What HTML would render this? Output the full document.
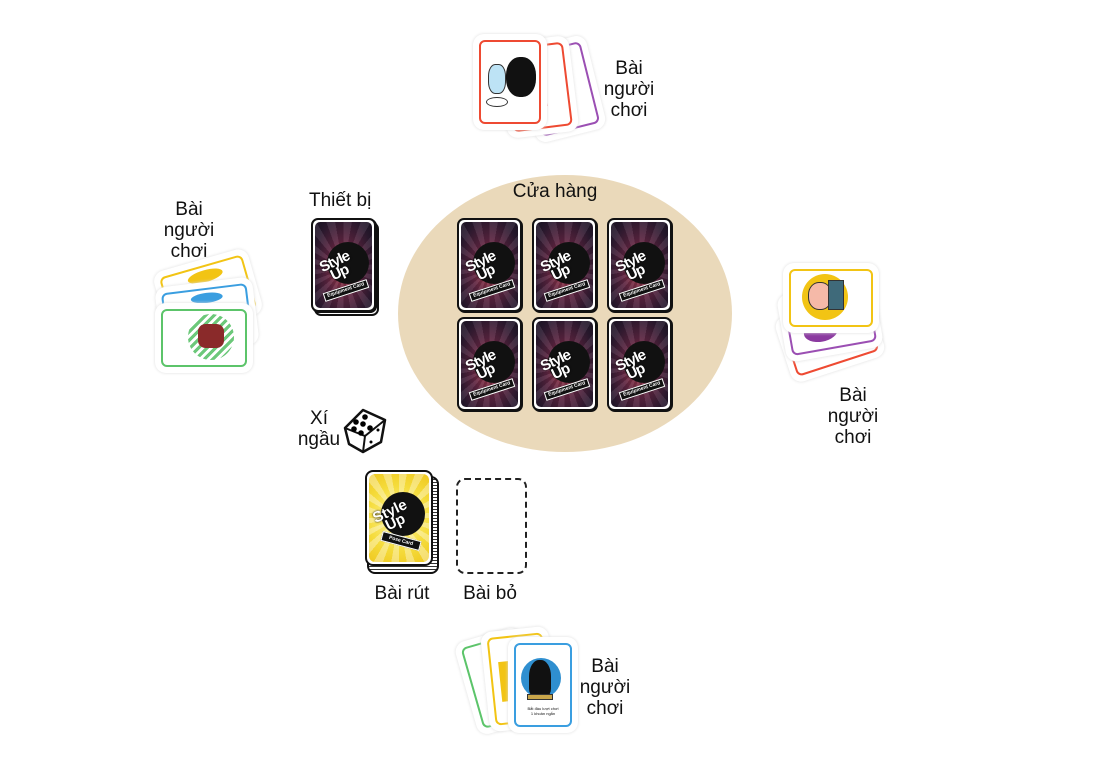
<!DOCTYPE html>
<html><head><meta charset="utf-8"><style>
*{margin:0;padding:0;box-sizing:border-box}
body{width:1119px;height:778px;background:#fff;position:relative;overflow:hidden;font-family:"Liberation Sans",sans-serif;color:#111}
.abs{position:absolute}
.lbl{position:absolute;font-size:19px;line-height:21px;text-align:center;color:#111}
.back{position:absolute;width:65px;height:94px;border-radius:7px;background:#fff;border:2px solid #111;padding:2px;box-shadow:1px 1px 0 #111}
.back .in{width:100%;height:100%;border-radius:5px;overflow:hidden;position:relative;
background:repeating-conic-gradient(from 0deg at 50% 55%,rgba(255,255,255,0.08) 0 10deg,rgba(0,0,0,0.1) 10deg 20deg),radial-gradient(ellipse at 50% 55%,#a63c4c 0%,#5a2440 45%,#2a1a30 80%,#1b1424 100%)}
.back .circ{position:absolute;left:12px;top:20px;width:42px;height:42px;border-radius:50%;background:#111}
.back .logo{position:absolute;left:6px;top:30px;width:48px;height:24px;transform:rotate(-25deg);font:bold 15px/12px "Liberation Sans",sans-serif;color:#fff;text-shadow:0 0 2px #000;letter-spacing:-1px}
.back .tag{position:absolute;left:8px;top:64px;width:46px;height:9px;background:#111;border:1px solid #fff;transform:rotate(-18deg);font:bold 5px/7px sans-serif;color:#fff;text-align:center}
.face{position:absolute;background:#fff;border-radius:8px;box-shadow:0 0 0 3px #fff,0 0 3px 3px #ddd}
.face .b{position:absolute;inset:3px;border-radius:6px;border:2.5px solid}
</style></head><body>

<div class="abs" style="left:398px;top:175px;width:334px;height:277px;border-radius:50%;background:#ead9ba"></div>
<div class="lbl" style="left:500px;top:181px;width:110px">Cửa hàng</div>

<div class="back" style="left:457px;top:218px"><div class="in"><div class="circ"></div><div class="logo">Style<br>&nbsp;&nbsp;Up</div><div class="tag">Equipment Card</div></div></div>
<div class="back" style="left:532px;top:218px"><div class="in"><div class="circ"></div><div class="logo">Style<br>&nbsp;&nbsp;Up</div><div class="tag">Equipment Card</div></div></div>
<div class="back" style="left:607px;top:218px"><div class="in"><div class="circ"></div><div class="logo">Style<br>&nbsp;&nbsp;Up</div><div class="tag">Equipment Card</div></div></div>
<div class="back" style="left:457px;top:317px"><div class="in"><div class="circ"></div><div class="logo">Style<br>&nbsp;&nbsp;Up</div><div class="tag">Equipment Card</div></div></div>
<div class="back" style="left:532px;top:317px"><div class="in"><div class="circ"></div><div class="logo">Style<br>&nbsp;&nbsp;Up</div><div class="tag">Equipment Card</div></div></div>
<div class="back" style="left:607px;top:317px"><div class="in"><div class="circ"></div><div class="logo">Style<br>&nbsp;&nbsp;Up</div><div class="tag">Equipment Card</div></div></div>

<div class="lbl" style="left:309px;top:190px;width:80px;text-align:left">Thiết bị</div>
<div class="back" style="left:314px;top:222px;box-shadow:none"></div>
<div class="back" style="left:312px;top:219px;box-shadow:none"></div>
<div class="back" style="left:311px;top:218px"><div class="in"><div class="circ"></div><div class="logo">Style<br>&nbsp;&nbsp;Up</div><div class="tag">Equipment Card</div></div></div>

<!-- top hand -->
<div class="face" style="left:528px;top:44px;width:66px;height:90px;transform:rotate(-14deg)"><div class="b" style="border-color:#9b4fb3"></div><div class="abs" style="left:24px;top:15px;width:16px;height:55px;background:#8b3aa0;transform:skewX(-12deg)"></div></div>
<div class="face" style="left:505px;top:42px;width:66px;height:90px;transform:rotate(-7deg)"><div class="b" style="border-color:#ee4a32"></div><div class="abs" style="left:34px;top:25px;width:6px;height:40px;background:#e23"></div></div>
<div class="face" style="left:476px;top:37px;width:68px;height:90px"><div class="b" style="border-color:#ee4a32"></div>
<div class="abs" style="left:30px;top:20px;width:30px;height:40px;border-radius:45%;background:#111"></div>
<div class="abs" style="left:12px;top:27px;width:18px;height:30px;border-radius:40%;background:#bde3f5;border:1px solid #333"></div>
<div class="abs" style="left:10px;top:60px;width:22px;height:10px;border-radius:50%;border:1px solid #333"></div></div>
<div class="lbl" style="left:601px;top:58px;width:56px">Bài<br>người<br>chơi</div>

<!-- left hand -->
<div class="lbl" style="left:161px;top:199px;width:56px">Bài<br>người<br>chơi</div>
<div class="face" style="left:162px;top:262px;width:92px;height:62px;transform:rotate(-16deg)"><div class="b" style="border-color:#f2c414"></div><div class="abs" style="left:30px;top:8px;width:36px;height:12px;border-radius:50%;background:#f2c414"></div></div>
<div class="face" style="left:161px;top:285px;width:92px;height:62px;transform:rotate(-7deg)"><div class="b" style="border-color:#3a9ee0"></div><div class="abs" style="left:32px;top:8px;width:32px;height:10px;border-radius:50%;background:#3a9ee0"></div></div>
<div class="face" style="left:158px;top:306px;width:92px;height:64px"><div class="b" style="border-color:#5cc46a"></div>
<div class="abs" style="left:30px;top:8px;width:46px;height:46px;border-radius:50%;background:repeating-linear-gradient(135deg,#6cc87a 0 3px,#fff 3px 6px)"></div>
<div class="abs" style="left:40px;top:18px;width:26px;height:24px;background:#8a2a2a;border-radius:30%"></div></div>

<!-- right hand -->
<div class="face" style="left:784px;top:306px;width:92px;height:62px;transform:rotate(-18deg)"><div class="b" style="border-color:#ee4a32"></div></div>
<div class="face" style="left:784px;top:290px;width:92px;height:62px;transform:rotate(-10deg)"><div class="b" style="border-color:#9b4fb3"></div><div class="abs" style="left:18px;top:30px;width:34px;height:20px;border-radius:50%;background:#8b3aa0"></div></div>
<div class="face" style="left:786px;top:266px;width:90px;height:64px"><div class="b" style="border-color:#f2c414"></div>
<div class="abs" style="left:16px;top:8px;width:46px;height:46px;border-radius:50%;background:#f2c414"></div>
<div class="abs" style="left:22px;top:16px;width:24px;height:28px;border-radius:45%;background:#f5b9a8;border:1px solid #333"></div>
<div class="abs" style="left:42px;top:14px;width:16px;height:30px;background:#3f6a7a;border:1px solid #333"></div></div>
<div class="lbl" style="left:823px;top:385px;width:60px">Bài<br>người<br>chơi</div>

<!-- dice -->
<div class="lbl" style="left:297px;top:408px;width:44px">Xí<br>ngầu</div>
<svg class="abs" style="left:341px;top:406px" width="50" height="50" viewBox="0 0 50 50">
<polygon points="4,22 22,4 44,14 40,36 22,46 8,38" fill="#fff" stroke="#111" stroke-width="2.5" stroke-linejoin="round"/>
<polyline points="4,22 24,30 44,14" fill="none" stroke="#111" stroke-width="2"/>
<line x1="24" y1="30" x2="22" y2="46" stroke="#111" stroke-width="2"/>
<circle cx="15" cy="16" r="2.8"/><circle cx="24" cy="11" r="2.8"/><circle cx="13" cy="23" r="2.8"/><circle cx="22" cy="18" r="2.8"/><circle cx="20" cy="27" r="2.8"/><circle cx="29" cy="22" r="2.8"/>
<circle cx="37" cy="24" r="1.5"/><circle cx="30" cy="36" r="1.5"/>
</svg>

<!-- draw pile -->
<div class="abs" style="left:367px;top:476px;width:72px;height:98px;border:2px solid #111;border-radius:8px;background:repeating-linear-gradient(0deg,#fff 0 2px,#333 2px 3px)"></div>
<div class="abs" style="left:365px;top:470px;width:68px;height:96px;border:2px solid #111;border-radius:8px;background:#fff;padding:2px">
<div style="width:100%;height:100%;border-radius:6px;background:repeating-conic-gradient(from 0deg at 50% 50%,rgba(255,255,255,0.35) 0 10deg,rgba(0,0,0,0) 10deg 20deg),radial-gradient(circle at 50% 50%,#fff6a0 0%,#f5dc3c 60%,#efc820 100%);position:relative;overflow:hidden">
<div class="abs" style="left:12px;top:18px;width:44px;height:44px;border-radius:50%;background:#111"></div>
<div class="abs" style="left:5px;top:28px;width:52px;font:bold 15px/12px 'Liberation Sans',sans-serif;color:#fff;transform:rotate(-25deg);text-shadow:0 0 2px #000">Style<br>&nbsp;&nbsp;Up</div>
<div class="abs" style="left:12px;top:62px;width:40px;height:10px;background:#111;border:1px solid #fff;transform:rotate(15deg);font:bold 5px/8px sans-serif;color:#fff;text-align:center">Pose Card</div>
</div></div>

<div class="abs" style="left:456px;top:478px;width:71px;height:96px;border:2px dashed #222;border-radius:9px"></div>
<div class="lbl" style="left:360px;top:583px;width:84px">Bài rút</div>
<div class="lbl" style="left:452px;top:583px;width:76px">Bài bỏ</div>

<!-- bottom hand -->
<div class="face" style="left:468px;top:636px;width:62px;height:90px;transform:rotate(-16deg)"><div class="b" style="border-color:#5cc46a"></div></div>
<div class="face" style="left:488px;top:632px;width:62px;height:94px;transform:rotate(-6deg)"><div class="b" style="border-color:#f2c414"></div><div class="abs" style="left:12px;top:28px;width:20px;height:40px;background:#f2c414"></div></div>
<div class="face" style="left:511px;top:640px;width:64px;height:90px"><div class="b" style="border-color:#3a9ee0"></div>
<div class="abs" style="left:10px;top:18px;width:40px;height:40px;border-radius:50%;background:#2f8fd0"></div>
<div class="abs" style="left:18px;top:20px;width:22px;height:36px;border-radius:45% 45% 20% 20%;background:#111"></div>
<div class="abs" style="left:16px;top:54px;width:26px;height:6px;background:#c9a64a;border:1px solid #333"></div>
<div class="abs" style="left:10px;top:66px;width:44px;font-size:4px;line-height:5px;text-align:center">Bắt đầu lượt chơi<br>1 khoản ngắn</div></div>
<div class="lbl" style="left:577px;top:656px;width:56px">Bài<br>người<br>chơi</div>

</body></html>
